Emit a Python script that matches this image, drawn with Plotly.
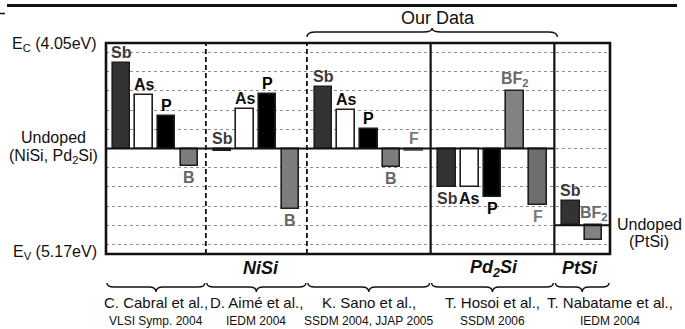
import plotly.graph_objects as go

# Shift of the Schottky barrier for each implanted dopant, measured from the
# undoped silicide level, in grid divisions (Ec at the top, Ev at the bottom).
cabral_dopants = ["Sb", "As", "P", "B"]
cabral_shift = [4.47, 2.79, 1.69, -0.91]
aime_dopants = ["Sb", "As", "P", "B"]
aime_shift = [-0.13, 2.07, 2.82, -3.17]
sano_dopants = ["Sb", "As", "P", "B", "F"]
sano_shift = [3.19, 2.0, 1.0, -0.98, -0.12]
hosoi_dopants = ["Sb", "As", "P", "BF2", "F"]
hosoi_shift = [-1.99, -1.99, -2.51, 3.0, -2.94]
nabatame_dopants = ["Sb", "BF2"]
nabatame_shift = [1.27, -0.77]

# Undoped reference level of each study (PtSi lies lower than NiSi / Pd2Si)
undoped_level = [0, 0, 0, 0, -4]

citation_authors = ["C. Cabral et al.,", "D. Aimé et al.,", "K. Sano et al.,",
                    "T. Hosoi et al.,", "T. Nabatame et al.,"]
citation_venues = ["VLSI Symp. 2004", "IEDM 2004", "SSDM 2004, JJAP 2005",
                   "SSDM 2006", "IEDM 2004"]

groups = [
    (cabral_dopants, cabral_shift),
    (aime_dopants, aime_shift),
    (sano_dopants, sano_shift),
    (hosoi_dopants, hosoi_shift),
    (nabatame_dopants, nabatame_shift),
]

# ---- styling -------------------------------------------------------------
FONT = "Arial, 'Liberation Sans', sans-serif"
FILL = {"Sb": "#333333", "As": "#ffffff", "P": "#000000",
        "B": "#7d7d7d", "F": "#6e6e6e", "BF2": "#828282"}
LABEL_COLOR = {"Sb": "#3a3a3a", "As": "#111111", "P": "#000000",
               "B": "#666666", "F": "#7a7a7a", "BF2": "#6a6a6a"}
LABEL_TEXT = {"BF2": "BF<sub>2</sub>"}

W, H = 685, 329
PLOT_L, PLOT_R, PLOT_T, PLOT_B = 106, 610, 43, 254
X_MIN, X_MAX = 0.0, 22.2
Y_MIN, Y_MAX = -5.5, 5.5
FIRST, STEP, GAP, BAR_W = 0.674, 1.0, 1.45, 0.77


def px_x(px):
    return (px - PLOT_L) / (PLOT_R - PLOT_L)


def px_y(py):
    return (PLOT_B - py) / (PLOT_B - PLOT_T)


def dx_to_px(x):
    return PLOT_L + (x - X_MIN) / (X_MAX - X_MIN) * (PLOT_R - PLOT_L)


# ---- bar layout -------------------------------------------------------------
xs, ys, bases, fills, lines, names = [], [], [], [], [], []
group_bounds = []
cursor = FIRST
for gi, (dopants, shifts) in enumerate(groups):
    first = cursor
    for d, v in zip(dopants, shifts):
        xs.append(cursor)
        ys.append(v)
        bases.append(undoped_level[gi])
        names.append((gi, d))
        fills.append(FILL[d])
        lines.append(FILL[d] if abs(v) < 0.3 and d != "Sb" else "#1e1e1e")
        cursor += STEP
    group_bounds.append((first, cursor - STEP))
    cursor += GAP - STEP

separators = [(group_bounds[i][1] + group_bounds[i + 1][0]) / 2
              for i in range(len(groups) - 1)]
section_edges = [X_MIN] + separators + [X_MAX]

fig = go.Figure()
fig.add_trace(go.Bar(
    x=xs, y=ys, base=bases, width=BAR_W,
    marker=dict(color=fills, line=dict(color=lines, width=1.6)),
    hoverinfo="skip", showlegend=False,
))

annotations = []

# dopant labels: above the bar for upward shifts (and for tiny marks),
# below it for downward shifts
labels_on_base = {(4, "BF2")}
for (gi, d), x, v, b in zip(names, xs, ys, bases):
    above = v > -0.3 or (gi, d) in labels_on_base
    y_anchor = b + max(v, 0) if above else b + v
    annotations.append(dict(
        x=x, y=y_anchor, xref="x", yref="y",
        text="<b>%s</b>" % LABEL_TEXT.get(d, d),
        showarrow=False, xanchor="center",
        yanchor="bottom" if above else "top",
        yshift=0 if above else -1,
        font=dict(family=FONT, size=16, color=LABEL_COLOR[d]),
    ))

# ---- shapes --------------------------------------------------------------
shapes = []

# solid undoped reference lines
shapes.append(dict(type="line", xref="x", yref="y", x0=X_MIN, x1=separators[3],
                   y0=0, y1=0, line=dict(color="#111111", width=2)))
shapes.append(dict(type="line", xref="x", yref="y", x0=separators[3], x1=X_MAX,
                   y0=undoped_level[4], y1=undoped_level[4],
                   line=dict(color="#111111", width=2)))

# study separators: dashed within NiSi, solid between silicides
for i, s in enumerate(separators):
    solid = i >= 2
    shapes.append(dict(type="line", xref="x", yref="paper", x0=s, x1=s, y0=0, y1=1,
                       line=dict(color="#111111", width=2.2 if solid else 1.8,
                                 dash="solid" if solid else "5px,3px")))

# heavy frame
shapes.append(dict(type="rect", xref="paper", yref="paper", x0=0, x1=1, y0=0, y1=1,
                   line=dict(color="#111111", width=2.6)))

# rule across the top of the figure
shapes.append(dict(type="line", xref="paper", yref="paper",
                   x0=px_x(7), x1=px_x(677), y0=px_y(5.5), y1=px_y(5.5),
                   line=dict(color="#111111", width=3)))
shapes.append(dict(type="line", xref="paper", yref="paper",
                   x0=px_x(0), x1=px_x(5), y0=px_y(13.5), y1=px_y(13.5),
                   line=dict(color="#111111", width=1.5)))


def brace(x0, x1, y_end, y_body, y_tip, r=7):
    """Curly brace between pixel columns x0..x1, tip pointing to y_tip."""
    xm = (x0 + x1) / 2
    r = min(r, (x1 - x0) / 4)
    pts = [("M", [(x0, y_end)]),
           ("Q", [(x0, y_body), (x0 + r, y_body)]),
           ("L", [(xm - r, y_body)]),
           ("Q", [(xm, y_body), (xm, y_tip)]),
           ("Q", [(xm, y_body), (xm + r, y_body)]),
           ("L", [(x1 - r, y_body)]),
           ("Q", [(x1, y_body), (x1, y_end)])]
    path = " ".join(cmd + " " + " ".join("%.5f,%.5f" % (px_x(a), px_y(b)) for a, b in p)
                    for cmd, p in pts)
    return dict(type="path", xref="paper", yref="paper", path=path,
                line=dict(color="#111111", width=1.4))


# braces grouping the studies below the frame
edge_px = [dx_to_px(e) for e in section_edges]
for a, b in zip(edge_px[:-1], edge_px[1:]):
    shapes.append(brace(a + 1, b - 1, 283, 287, 292))

# brace for the studies of this work
shapes.append(brace(dx_to_px(separators[1]), dx_to_px(separators[3]) + 3, 37, 32, 28, r=9))

# ---- texts ---------------------------------------------------------------
def text(px, py, s, size, color="#111111", xanchor="center"):
    annotations.append(dict(x=px_x(px), y=px_y(py), xref="paper", yref="paper",
                            text=s, showarrow=False, xanchor=xanchor, yanchor="middle",
                            font=dict(family=FONT, size=size, color=color)))


text(438, 18, "Our Data", 18)

text(99, 44, "E<sub>C</sub> (4.05eV)", 16, xanchor="right")
text(53, 137, "Undoped", 16)
text(53, 156, "(NiSi, Pd<sub>2</sub>Si)", 16)
text(99, 252, "E<sub>V</sub> (5.17eV)", 16, xanchor="right")
text(649, 224, "Undoped", 16)
text(649, 241, "(PtSi)", 16)

text(261, 268, "<b><i>NiSi</i></b>", 18)
text(494, 268, "<b><i>Pd<sub>2</sub>Si</i></b>", 18)
text(580, 268, "<b><i>PtSi</i></b>", 18)

cite_px = [(a + b) / 2 for a, b in zip(edge_px[:-1], edge_px[1:])]
cite_px[-1] = edge_px[-1]  # the last citation is wider than its section
for cx, l1, l2 in zip(cite_px, citation_authors, citation_venues):
    text(cx, 302, l1, 15)
    text(cx, 321, l2, 12)

fig.update_layout(
    width=W, height=H,
    margin=dict(l=PLOT_L, r=W - PLOT_R, t=PLOT_T, b=H - PLOT_B, pad=0),
    paper_bgcolor="white", plot_bgcolor="white",
    xaxis=dict(range=[X_MIN, X_MAX], showgrid=False, zeroline=False,
               showticklabels=False, ticks="", fixedrange=True),
    yaxis=dict(range=[Y_MIN, Y_MAX], tick0=0, dtick=1, showgrid=True,
               gridcolor="#8c8c8c", gridwidth=1, griddash="dot", zeroline=False,
               showticklabels=False, ticks="", fixedrange=True),
    shapes=shapes, annotations=annotations,
    bargap=0, showlegend=False,
)

fig.write_html("out.html")
